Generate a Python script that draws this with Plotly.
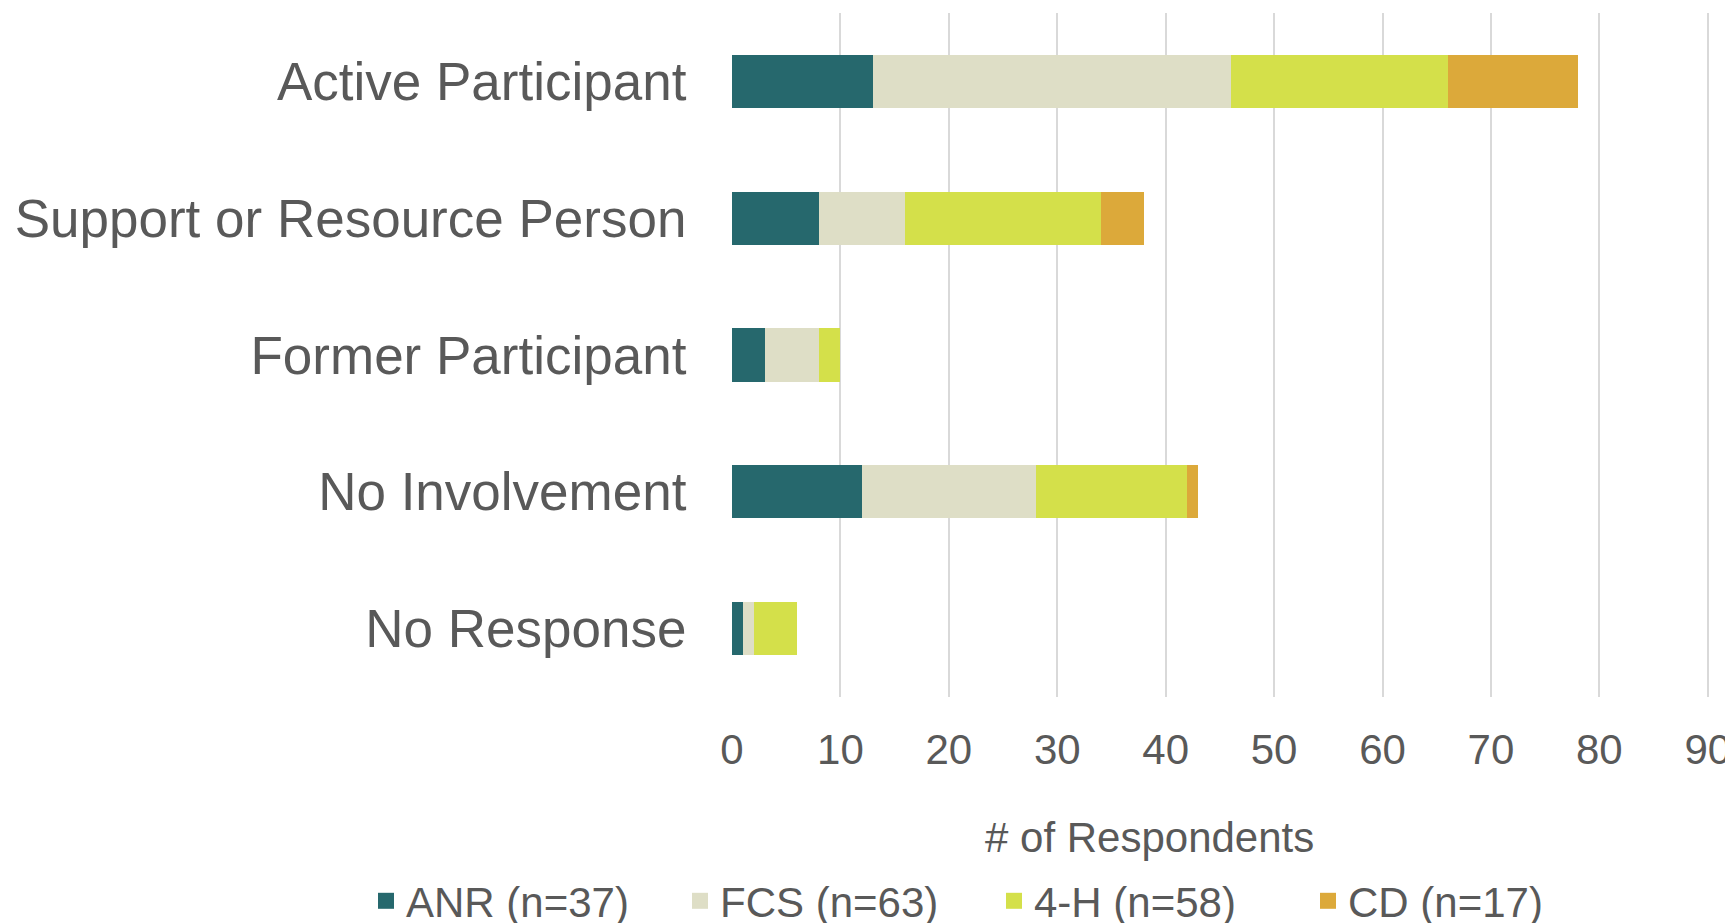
import plotly.graph_objects as go

categories = ["Active Participant", "Support or Resource Person", "Former Participant",
              "No Involvement", "No Response"]
series_names = ["ANR (n=37)", "FCS (n=63)", "4-H (n=58)", "CD (n=17)"]
anr = [13, 8, 3, 12, 1]
fcs = [33, 8, 5, 16, 1]
fourh = [20, 18, 2, 14, 4]
cd = [12, 4, 0, 1, 0]
colors = ["#26686D", "#DEDEC6", "#D4E04A", "#DCA93A"]
x_ticks = [0, 10, 20, 30, 40, 50, 60, 70, 80, 90]

W, H = 1733, 923
ML, MR, MT, MB = 724, 30, 5, 234
PW, PH = W - ML - MR, H - MT - MB

fig = go.Figure()
for name, vals, col in zip(series_names, [anr, fcs, fourh, cd], colors):
    fig.add_trace(go.Bar(
        y=categories, x=vals, name=name, orientation="h",
        marker=dict(color=col, line=dict(width=0)),
        showlegend=False, legendgroup=name,
    ))
# legend entries (square swatches)
for name, col in zip(series_names, colors):
    fig.add_trace(go.Scatter(
        x=[None], y=[None], mode="markers", name=name, legendgroup=name,
        marker=dict(symbol="square", size=22, color=col, line=dict(width=0)),
        showlegend=True, hoverinfo="skip",
    ))

font_fam = "Liberation Sans, Arial, sans-serif"
txt = "#595959"

fig.update_layout(
    barmode="stack",
    bargap=0.61,
    width=W, height=H,
    margin=dict(l=ML, r=MR, t=MT, b=MB, pad=0, autoexpand=False),
    paper_bgcolor="white", plot_bgcolor="white",
    font=dict(family=font_fam, color=txt, size=42),
    showlegend=True,
    legend=dict(
        orientation="h",
        x=(358 - ML) / PW, xanchor="left",
        y=-(893 - (MT + PH)) / PH, yanchor="middle",
        font=dict(size=42, color=txt, family=font_fam),
        traceorder="normal", itemclick=False, itemsizing="trace",
        entrywidth=269, tracegroupgap=0,
    ),
    xaxis=dict(
        range=[0, 90.3], tickvals=x_ticks, ticktext=[str(v) for v in x_ticks],
        showgrid=True, gridcolor="#D9D9D9", gridwidth=1.5,
        zeroline=False, showline=False, automargin=False,
        ticks="outside", ticklen=16, tickcolor="rgba(0,0,0,0)",
        tickfont=dict(size=42, color=txt, family=font_fam),
    ),
    yaxis=dict(
        categoryorder="array", categoryarray=categories, autorange="reversed",
        showgrid=False, zeroline=False, showline=False, automargin=False,
        ticks="outside", ticklen=34, tickcolor="rgba(0,0,0,0)",
        tickfont=dict(size=53, color=txt, family=font_fam),
    ),
    annotations=[dict(
        text="# of Respondents", xref="paper", yref="paper",
        x=(1141 - ML) / PW, y=-(829 - (MT + PH)) / PH,
        xanchor="center", yanchor="middle", showarrow=False,
        font=dict(size=42, color=txt, family=font_fam),
    )],
)

fig.write_html("out.html")
